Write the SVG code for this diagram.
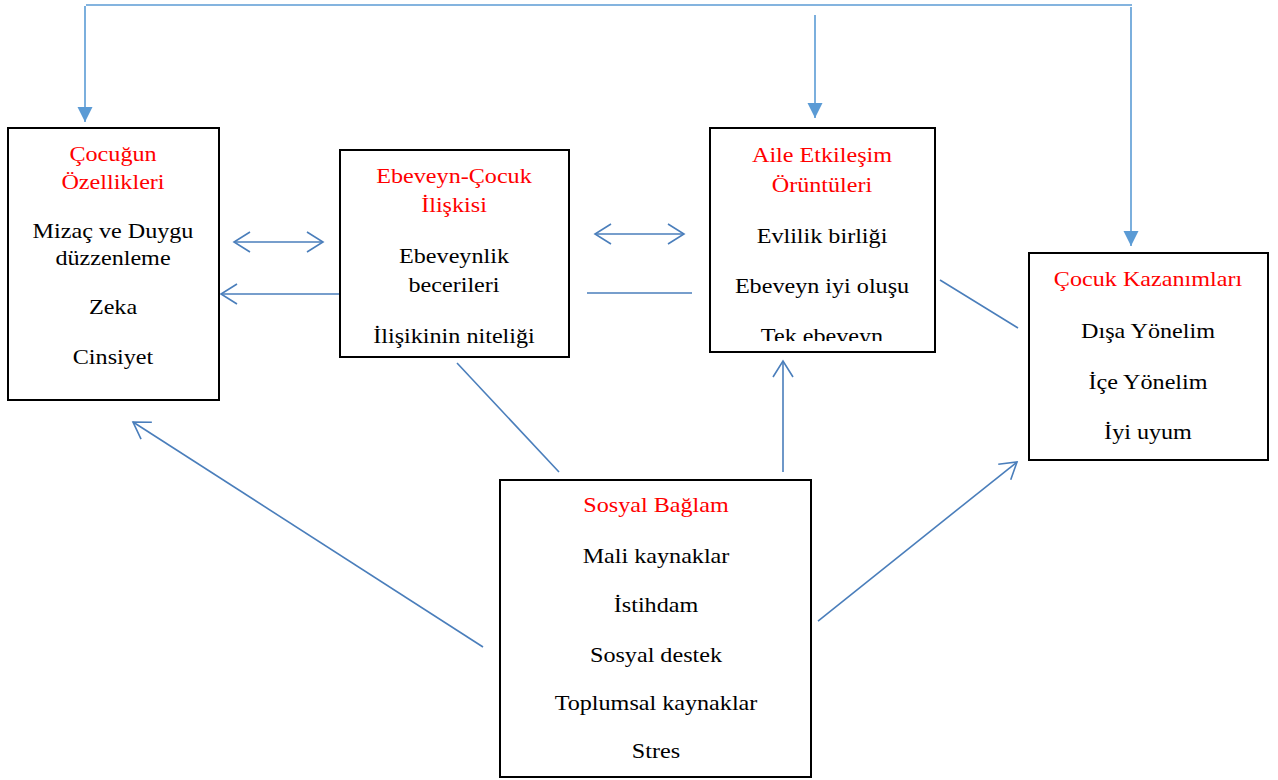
<svg xmlns="http://www.w3.org/2000/svg" width="1278" height="780" viewBox="0 0 1278 780">
<style>
.box{fill:#fff;stroke:#000;stroke-width:2}
text{font-family:'Liberation Serif','Times New Roman',serif;font-size:21px;text-anchor:middle;fill:#000}
.h{fill:#ff0000}
.top{stroke:#5B9BD5;stroke-width:1.6;fill:none}
.c{stroke:#4A7EBB;stroke-width:1.6;fill:none}
</style>
<defs>
<marker id="fill" markerUnits="userSpaceOnUse" markerWidth="16" markerHeight="16" refX="15" refY="7.5" orient="auto">
<path d="M0,0 L15,7.5 L0,15 Z" fill="#5B9BD5"/>
</marker>
<marker id="open" markerUnits="userSpaceOnUse" markerWidth="20" markerHeight="24" refX="17" refY="11" orient="auto-start-reverse">
<path d="M1,1 L17,11 L1,21" fill="none" stroke="#4A7EBB" stroke-width="1.6"/>
</marker>
<clipPath id="clip3"><rect x="711" y="129" width="223" height="212"/></clipPath>
</defs>

<g id="connectors">
<path class="top" d="M86,5 L1132,5"/>
<path class="top" d="M85,6 L85,122" marker-end="url(#fill)"/>
<path class="top" d="M815,15 L815,118" marker-end="url(#fill)"/>
<path class="top" d="M1131,7 L1131,246" marker-end="url(#fill)"/>
<path class="c" d="M234,242 L323,242" marker-start="url(#open)" marker-end="url(#open)"/>
<path class="c" d="M340,294 L221,294" marker-end="url(#open)"/>
<path class="c" d="M595,234 L684,234" marker-start="url(#open)" marker-end="url(#open)"/>
<path class="c" d="M587,293 L692,293"/>
<path class="c" d="M940,280 L1018,328"/>
<path class="c" d="M457,363 L559,472"/>
<path class="c" d="M783,472 L783,361" marker-end="url(#open)"/>
<path class="c" d="M483,647 L133,422" marker-end="url(#open)"/>
<path class="c" d="M818,621 L1017,462" marker-end="url(#open)"/>
</g>

<g id="node-cocugun-ozellikleri">
<rect class="box" x="8" y="128" width="211" height="272"/>
<g transform="translate(113,0) scale(1.15,1)">
<text class="h" x="0" y="161">Çocuğun</text>
<text class="h" x="0" y="189">Özellikleri</text>
<text x="0" y="238">Mizaç ve Duygu</text>
<text x="0" y="265">düzzenleme</text>
<text x="0" y="314">Zeka</text>
<text x="0" y="364">Cinsiyet</text>
</g>
</g>

<g id="node-ebeveyn-cocuk">
<rect class="box" x="340" y="150" width="229" height="207"/>
<g transform="translate(454,0) scale(1.15,1)">
<text class="h" x="0" y="183">Ebeveyn-Çocuk</text>
<text class="h" x="0" y="212">İlişkisi</text>
<text x="0" y="263">Ebeveynlik</text>
<text x="0" y="292">becerileri</text>
<text x="0" y="343">İlişikinin niteliği</text>
</g>
</g>

<g id="node-aile-etkilesim">
<rect class="box" x="710" y="128" width="225" height="224"/>
<g clip-path="url(#clip3)">
<g transform="translate(822,0) scale(1.15,1)">
<text class="h" x="0" y="162">Aile Etkileşim</text>
<text class="h" x="0" y="192">Örüntüleri</text>
<text x="0" y="243">Evlilik birliği</text>
<text x="0" y="293">Ebeveyn iyi oluşu</text>
<text x="0" y="343">Tek ebeveyn</text>
</g>
</g>
</g>

<g id="node-cocuk-kazanimlari">
<rect class="box" x="1029" y="253" width="239" height="207"/>
<g transform="translate(1148,0) scale(1.15,1)">
<text class="h" x="0" y="286">Çocuk Kazanımları</text>
<text x="0" y="338">Dışa Yönelim</text>
<text x="0" y="389">İçe Yönelim</text>
<text x="0" y="439">İyi uyum</text>
</g>
</g>

<g id="node-sosyal-baglam">
<rect class="box" x="500" y="480" width="311" height="297"/>
<g transform="translate(656,0) scale(1.15,1)">
<text class="h" x="0" y="512">Sosyal Bağlam</text>
<text x="0" y="563">Mali kaynaklar</text>
<text x="0" y="612">İstihdam</text>
<text x="0" y="662">Sosyal destek</text>
<text x="0" y="710">Toplumsal kaynaklar</text>
<text x="0" y="758">Stres</text>
</g>
</g>
</svg>
